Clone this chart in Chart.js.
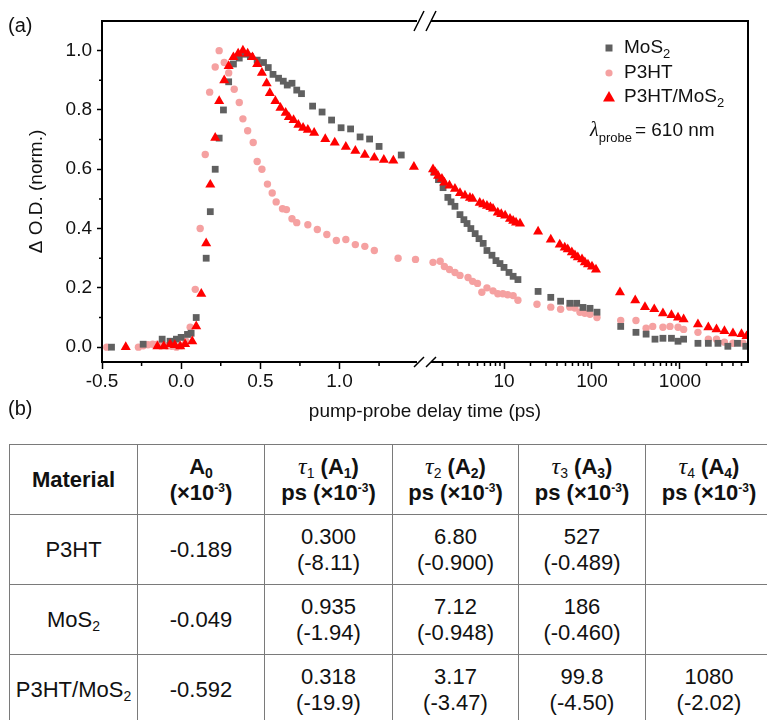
<!DOCTYPE html>
<html><head><meta charset="utf-8">
<script src="https://cdn.jsdelivr.net/npm/chart.js@4.4.1/dist/chart.umd.min.js"></script>
<style>
html,body{margin:0;padding:0;background:#fff;}
body{width:767px;height:720px;overflow:hidden;position:relative;font-family:"Liberation Sans",Arial,sans-serif;color:#111;}
#wrap{position:absolute;left:0;top:0;width:767px;height:432px;}
.panel{position:absolute;left:8px;font-size:20px;line-height:24px;}
#tbl{position:absolute;left:9px;top:444px;border-collapse:collapse;table-layout:fixed;width:763px;}
#tbl td{border:1px solid #7a7a7a;text-align:center;vertical-align:middle;font-size:22px;line-height:26px;height:69px;padding:0;white-space:nowrap;}
#tbl b{font-weight:bold;}
#tbl sub{font-size:14px;vertical-align:-4px;line-height:0;}
#tbl sup{font-size:12px;vertical-align:8px;line-height:0;}
.tau{font-family:"Liberation Serif","DejaVu Serif",serif;font-style:italic;font-weight:normal;font-size:24px;}
</style>
</head><body>
<div id="wrap"><canvas id="c" width="767" height="432"></canvas></div>
<div class="panel" style="top:13px">(a)</div>
<div class="panel" style="top:396px">(b)</div>
<table id="tbl"></table>
<script>
// ---------- data ----------
// MoS2 (grey squares)
const mos2EarlyT = [-0.44,-0.24,-0.12,-0.07,-0.03,0.0,0.04,0.063,0.095,0.158,0.184,0.215,0.24,0.267,0.30,0.33,0.367,0.40,0.437,0.48,0.52,0.55,0.58,0.615,0.645,0.67,0.70,0.73,0.76,0.83,0.89,0.95,1.01,1.07,1.13,1.19,1.25,1.39];
const mos2EarlyV = [0.0,0.01,0.027,0.02,0.027,0.033,0.043,0.047,0.10,0.30,0.457,0.60,0.705,0.80,0.895,0.955,0.975,0.988,0.98,0.968,0.96,0.943,0.92,0.907,0.897,0.884,0.89,0.867,0.855,0.813,0.793,0.766,0.74,0.736,0.709,0.702,0.677,0.648];
const mos2LateT = [1.6,1.8,2.03,2.3,2.5,2.77,3.16,3.5,3.8,4.2,4.7,5.2,5.8,6.4,7.3,8.1,9.0,10,11.4,12.7,14.4,24.4,34,44,56,67,79,95,114,212,316,412,520,640,800,950,1100,1600,2100,2700,3500,4500,5600];
const mos2LateV = [0.59,0.565,0.538,0.505,0.49,0.475,0.447,0.43,0.417,0.40,0.383,0.366,0.35,0.326,0.31,0.292,0.282,0.269,0.252,0.239,0.228,0.188,0.168,0.155,0.148,0.148,0.134,0.131,0.118,0.07,0.05,0.044,0.027,0.03,0.03,0.02,0.027,0.013,0.013,0.013,0.003,0.013,0.003];
// P3HT (pink circles)
const p3htEarlyT = [-0.47,-0.27,-0.24,-0.21,-0.18,-0.15,-0.12,-0.09,-0.06,-0.03,0.0,0.03,0.057,0.089,0.12,0.152,0.18,0.215,0.24,0.272,0.30,0.335,0.367,0.39,0.42,0.455,0.48,0.51,0.545,0.575,0.60,0.64,0.665,0.70,0.73,0.80,0.86,0.92,0.98,1.04,1.10,1.16,1.22,1.37,1.48];
const p3htEarlyV = [0.0,0.0,0.005,0.008,0.01,0.01,0.008,0.005,0.003,0.0,0.005,0.02,0.067,0.195,0.40,0.65,0.86,0.945,1.0,0.96,0.925,0.87,0.825,0.77,0.73,0.69,0.626,0.60,0.55,0.52,0.49,0.467,0.464,0.433,0.42,0.413,0.397,0.38,0.36,0.363,0.346,0.34,0.326,0.30,0.296];
const p3htLateT = [1.56,1.88,2.1,2.4,2.77,3.16,3.9,4.4,5.0,5.6,6.4,7.5,8.5,9.7,11,12.7,14.4,23.7,34,44,56,64,73,83,95,114,212,316,412,490,640,770,950,1100,1600,2100,2600,3200,4000,5200];
const p3htLateV = [0.286,0.29,0.272,0.262,0.252,0.242,0.235,0.222,0.215,0.185,0.2,0.19,0.18,0.18,0.177,0.174,0.158,0.145,0.135,0.128,0.135,0.132,0.118,0.114,0.111,0.10,0.09,0.09,0.064,0.07,0.067,0.07,0.067,0.06,0.05,0.027,0.027,0.017,0.013,0.013];
// P3HT/MoS2 (red triangles)
const hybEarlyT = [-0.35,-0.15,-0.11,-0.07,-0.04,-0.006,0.025,0.07,0.095,0.127,0.158,0.184,0.215,0.24,0.272,0.30,0.33,0.36,0.39,0.42,0.45,0.48,0.51,0.54,0.56,0.595,0.627,0.66,0.68,0.71,0.74,0.77,0.80,0.84,0.91,0.97,1.04,1.10,1.16,1.22,1.28,1.34,1.47];
const hybEarlyV = [0.0,0.003,0.003,0.01,0.007,0.003,0.01,0.02,0.07,0.18,0.35,0.548,0.706,0.83,0.90,0.948,0.978,0.99,1.0,0.99,0.978,0.955,0.925,0.89,0.857,0.83,0.807,0.79,0.776,0.766,0.75,0.74,0.733,0.723,0.702,0.69,0.676,0.662,0.649,0.639,0.632,0.629,0.608];
const hybLateT = [1.56,1.65,1.78,1.97,2.1,2.4,2.77,3.16,3.6,4.1,4.4,5.3,5.8,6.4,7.0,7.5,8.5,9.3,10.3,11.7,12.7,13.7,15.2,24.4,34,43,49,53,59,64,69,77,83,90,100,111,208,310,400,510,640,800,950,1100,1600,2100,2600,3200,4000,5000,5700];
const hybLateV = [0.60,0.59,0.578,0.568,0.555,0.545,0.534,0.52,0.511,0.504,0.50,0.487,0.482,0.477,0.472,0.467,0.454,0.449,0.444,0.433,0.426,0.42,0.417,0.39,0.363,0.346,0.336,0.33,0.32,0.31,0.303,0.296,0.286,0.279,0.272,0.262,0.185,0.158,0.135,0.128,0.114,0.108,0.10,0.094,0.077,0.067,0.06,0.054,0.047,0.044,0.037];

// tick labels
const linTicks = [-0.5, 0.0, 0.5, 1.0];
const linMinor = [-0.25, 0.25, 0.75, 1.25];
const logTicks = [10, 100, 1000];
const yTicks = [0.0, 0.2, 0.4, 0.6, 0.8, 1.0];
const yMinor = [0.1, 0.3, 0.5, 0.7, 0.9];

// table data
const tblHeader = ['Material','A0','τ1','τ2','τ3','τ4'];
const materials = [['P3HT',''],['MoS','2'],['P3HT/MoS','2']];
const colA0 = ['-0.189','-0.049','-0.592'];
const colTau1 = [['0.300','-8.11'],['0.935','-1.94'],['0.318','-19.9']];
const colTau2 = [['6.80','-0.900'],['7.12','-0.948'],['3.17','-3.47']];
const colTau3 = [['527','-0.489'],['186','-0.460'],['99.8','-4.50']];
const colTau4 = [null,null,['1080','-2.02']];

// ---------- colours ----------
const C_MOS2 = '#606060', C_P3HT = '#f5a1a1', C_HYB = '#ff0000';
const FONT = '"Liberation Sans", Arial, sans-serif';

function pts(t, v){ return t.map((x,i)=>({x:x, y:v[i]})); }
function ds(label, t, v, axis, style, color, r, order){
  return {label, data: pts(t,v), xAxisID: axis, yAxisID:'y', pointStyle: style,
    pointRadius:r, pointHoverRadius:r, pointBackgroundColor:color, backgroundColor:color,
    borderColor:color, pointBorderWidth:0, showLine:false, order};
}

const decor = {
  id:'decor',
  afterDraw(chart){
    const ctx = chart.ctx, ca = chart.chartArea;
    const xl = chart.scales.xLin, xg = chart.scales.xLog, ys = chart.scales.y;
    ctx.save();
    ctx.strokeStyle = '#000';
    ctx.lineWidth = 2;
    ctx.beginPath();
    ctx.moveTo(ca.left - 1, ca.top); ctx.lineTo(ca.right, ca.top); ctx.lineTo(ca.right, ca.bottom + 1);
    ctx.stroke();
    // minor ticks
    ctx.lineWidth = 1.5;
    ctx.beginPath();
    linMinor.forEach(v=>{ const p = xl.getPixelForValue(v); ctx.moveTo(p, ca.bottom); ctx.lineTo(p, ca.bottom + 4); });
    [1,10,100,1000].forEach(d=>{ for(let m=2;m<10;m++){ const v=m*d; if(v>xg.min && v<xg.max){ const p=xg.getPixelForValue(v); ctx.moveTo(p, ca.bottom); ctx.lineTo(p, ca.bottom+4);} } });
    yMinor.forEach(v=>{ const p = ys.getPixelForValue(v); ctx.moveTo(ca.left, p); ctx.lineTo(ca.left - 3, p); });
    ctx.stroke();
    // axis break
    const bx = xl.right;
    ctx.fillStyle = '#fff';
    ctx.fillRect(bx - 8, ca.top - 2, 14, 4);
    ctx.fillRect(bx - 8, ca.bottom - 2, 14, 4);
    ctx.lineWidth = 1.5;
    ctx.beginPath();
    [-6, 6].forEach(o=>{
      ctx.moveTo(bx + o - 5, ca.top + 10); ctx.lineTo(bx + o + 5, ca.top - 10);
      ctx.moveTo(bx + o - 5, ca.bottom + 5); ctx.lineTo(bx + o + 5, ca.bottom - 5);
    });
    ctx.stroke();
    // x title
    ctx.fillStyle = '#111';
    ctx.font = '19px ' + FONT;
    ctx.textAlign = 'center'; ctx.textBaseline = 'middle';
    ctx.fillText('pump-probe delay time (ps)', (ca.left + ca.right)/2, 412);
    // legend
    const lx = 609, tx = 624;
    const rows = [
      {y:48, style:'rect', color:C_MOS2, parts:[['MoS',0],['2',1]]},
      {y:73, style:'circle', color:C_P3HT, parts:[['P3HT',0]]},
      {y:97, style:'triangle', color:C_HYB, parts:[['P3HT/MoS',0],['2',1]]}
    ];
    rows.forEach(r=>{
      ctx.fillStyle = r.color;
      ctx.beginPath();
      if(r.style==='rect'){ ctx.rect(lx-3.5, r.y-3.5, 7, 7); }
      else if(r.style==='circle'){ ctx.arc(lx, r.y, 3.6, 0, Math.PI*2); }
      else { ctx.moveTo(lx, r.y-6); ctx.lineTo(lx+6, r.y+4.5); ctx.lineTo(lx-6, r.y+4.5); ctx.closePath(); }
      ctx.fill();
      ctx.fillStyle = '#111';
      ctx.textAlign = 'left';
      let x = tx;
      r.parts.forEach(([t,sub])=>{
        ctx.font = (sub ? '13px ' : '19px ') + FONT;
        ctx.fillText(t, x, r.y + (sub ? 6 : 0));
        x += ctx.measureText(t).width;
      });
    });
    // lambda label
    let x = 590;
    ctx.font = 'italic 20px "Liberation Serif", serif';
    ctx.fillText('λ', x, 131); x += ctx.measureText('λ').width;
    ctx.font = '13px ' + FONT;
    ctx.fillText('probe', x, 138); x += ctx.measureText('probe').width + 3;
    ctx.font = '19px ' + FONT;
    ctx.fillText('= 610 nm', x, 131);
    ctx.restore();
  }
};

const tickFont = {family: FONT, size: 19};
const axisCommon = {
  ticks:{font:tickFont, color:'#111', autoSkip:false, maxRotation:0},
  border:{display:true, color:'#000', width:2},
};

new Chart(document.getElementById('c'), {
  type:'scatter',
  data:{datasets:[
    ds('P3HT/MoS2', hybEarlyT, hybEarlyV, 'xLin', 'triangle', C_HYB, 5.8, 1),
    ds('P3HT/MoS2', hybLateT, hybLateV, 'xLog', 'triangle', C_HYB, 5.8, 1),
    ds('MoS2', mos2EarlyT, mos2EarlyV, 'xLin', 'rect', C_MOS2, 4.8, 2),
    ds('MoS2', mos2LateT, mos2LateV, 'xLog', 'rect', C_MOS2, 4.8, 2),
    ds('P3HT', p3htEarlyT, p3htEarlyV, 'xLin', 'circle', C_P3HT, 3.7, 3),
    ds('P3HT', p3htLateT, p3htLateV, 'xLog', 'circle', C_P3HT, 3.7, 3)
  ]},
  options:{
    responsive:false, animation:false, events:[],
    layout:{padding:{left:0, top:21, right:19, bottom:38}},
    plugins:{legend:{display:false}, tooltip:{enabled:false}},
    scales:{
      xLin:{type:'linear', axis:'x', position:'bottom', stack:'xs', stackWeight:1, min:-0.5, max:1.54,
        afterBuildTicks:s=>{ s.ticks = linTicks.map(v=>({value:v})); },
        afterFit:s=>{ s.height = 32; },
        ticks:Object.assign({}, axisCommon.ticks, {padding:1, callback:v=>Number(v).toFixed(1)}),
        grid:{drawOnChartArea:false, tickLength:7, tickWidth:1.5, tickColor:'#000'},
        border:axisCommon.border},
      xLog:{type:'logarithmic', axis:'x', position:'bottom', stack:'xs', stackWeight:1, min:1.265, max:5930,
        afterBuildTicks:s=>{ s.ticks = logTicks.map(v=>({value:v})); },
        afterFit:s=>{ s.height = 32; },
        ticks:Object.assign({}, axisCommon.ticks, {padding:1, callback:v=>String(v)}),
        grid:{drawOnChartArea:false, tickLength:7, tickWidth:1.5, tickColor:'#000'},
        border:axisCommon.border},
      y:{type:'linear', position:'left', min:-0.05, max:1.1,
        afterBuildTicks:s=>{ s.ticks = yTicks.map(v=>({value:v})); },
        afterFit:s=>{ s.width = 102; },
        ticks:Object.assign({}, axisCommon.ticks, {padding:5, callback:v=>Number(v).toFixed(1)}),
        grid:{drawOnChartArea:false, tickLength:5, tickWidth:1.5, tickColor:'#000'},
        border:axisCommon.border,
        title:{display:true, text:'Δ O.D. (norm.)', font:{family:FONT, size:19}, color:'#111', padding:{top:25, bottom:0}}}
    }
  },
  plugins:[decor]
});

// ---------- table ----------
(function(){
  const tb = document.getElementById('tbl');
  const widths = [128,127,128,126,127,127];
  const cg = document.createElement('colgroup');
  widths.forEach(w=>{ const c=document.createElement('col'); c.style.width=w+'px'; cg.appendChild(c); });
  tb.appendChild(cg);
  const unit = '(×10<sup>-3</sup>)';
  let h = '<tr><td><b>'+tblHeader[0]+'</b></td><td><b>A<sub>0</sub><br>'+unit+'</b></td>';
  for(let i=1;i<=4;i++){
    h += '<td><span class="tau">τ</span><sub>'+i+'</sub> <b>(A<sub>'+i+'</sub>)<br>ps '+unit+'</b></td>';
  }
  h += '</tr>';
  const cell = c => c ? '<td>'+c[0]+'<br>('+c[1]+')</td>' : '<td></td>';
  materials.forEach((m,r)=>{
    h += '<tr><td>'+m[0]+(m[1]?'<sub>'+m[1]+'</sub>':'')+'</td><td>'+colA0[r]+'</td>'+
      cell(colTau1[r])+cell(colTau2[r])+cell(colTau3[r])+cell(colTau4[r])+'</tr>';
  });
  tb.insertAdjacentHTML('beforeend', h);
})();
</script>
</body></html>
